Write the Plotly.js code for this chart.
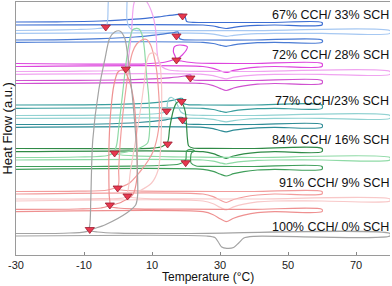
<!DOCTYPE html>
<html><head><meta charset="utf-8">
<script src="https://cdn.plot.ly/plotly-3.0.1.min.js"></script>
<style>html,body{margin:0;padding:0;background:#fff}#c{width:392px;height:286px}</style>
</head><body><div id="c"></div>
<script>
// temperature grids for the heating scans
const heatT60 = [-30,25,28,30,31.8,34,37,41,46,60];
const heatT80 = [-30,25,28,30,31.8,34,37,41,46,60,80];

// series labels
const groupLabels = ["67% CCH/ 33% SCH","72% CCH/ 28% SCH","77% CCH/23% SCH","84% CCH/ 16% SCH","91% CCH/ 9% SCH","100% CCH/ 0% SCH"];
const labelY = [15,55,101,140,183,227];

// 67/33 blue
const b1HeatY = [25,25,26,27.5,28.5,27.3,26.2,25.4,25,25];
const b1CoolT = [60,45,30,22,20.2,19.6,18.7,16.5,12,5,-5,-18,-30];
const b1CoolY = [22.5,22.5,22.5,22.3,21.5,15.5,14.2,14.8,16.8,19.2,21,21.8,22];
const b2HeatY = [33.3,33.3,34.2,35.4,36.3,35.3,34.4,33.6,33.3,33.3,33.3];
const b2CoolT = [80,40,20,8,5,4,3.1,2.6,2.55,1.5,0,-1.5,-2.6,-2.9,-3.0,-3.2,-3.6,-6,-12,-20,-30];
const b2CoolY = [30.7,30.7,30.6,30.6,30.3,29.5,26,18,-8,-16,-19,-16,-8,5,18,24,27,28.5,29.5,30.2,30.5];
const b3HeatY = [42.3,42.3,43.5,45.1,46.3,44.9,43.7,42.7,42.3,42.3];
const b3CoolT = [60,40,25,19,18.1,17.7,16.5,12,5,-5,-15,-30];
const b3CoolY = [40,40,40,39.6,38.5,32,32.5,34.6,37,38.7,39.6,40];

// 72/28 magenta
const m1HeatY = [66.5,66.5,68.3,70.7,72.5,70.4,68.6,67.1,66.5,66.5];
const m1CoolT = [60,40,28,23,20.2,18.7,17.2,18.9,20.1,20.4,18.1,16.6,16.3,16.9,14,8,0,-15,-30];
const m1CoolY = [63.5,63.5,63.4,63,62,61,60.5,55,50,46.7,45,46.7,52,58,62,63.8,64.2,64,63.5];
const m2HeatY = [74.3,74.3,75.7,77.5,78.8,77.2,75.9,74.8,74.3,74.3,74.3];
const m2CoolT = [80,40,25,18,15,13,12,11.5,11.3,11,10.2,8.5,6.4,4.8,4.0,3.4,2.9,2.6,2.3,1,-5,-15,-30];
const m2CoolY = [71.5,71.5,71.4,71,70,67,62,52,40,28,15,2,-5,2,30,50,62,67,69.8,70.5,71,71.3,71.5];
const m3HeatY = [83.5,83.5,85.6,88.4,90.5,88,85.9,84.2,83.5,83.5];
const m3CoolT = [60,40,26,22.3,21.6,21.4,21.0,19.5,15,8,0,-12,-30];
const m3CoolY = [80.5,80.5,80.4,80,78.5,75,74.8,76,77.8,79.2,80,80.4,80.5];

// 77/23 teal
const t1HeatY = [108.3,108.3,109.5,111.1,112.3,110.9,109.7,108.7,108.3,108.3];
const t1CoolT = [60,40,25,20.5,19.3,19.0,18.4,16,10,2,-10,-30];
const t1CoolY = [105,105,105,104.6,103.5,98.5,98.3,100.3,102.8,104.2,104.8,105];
const t2HeatY = [118.3,118.3,119.4,120.8,121.8,120.6,119.5,118.7,118.3,118.3,118.3];
const t2CoolT = [80,40,25,20,18.5,17.5,16.6,15.8,15,14.5,14.3,12,5,-5,-15,-30];
const t2CoolY = [115.5,115.5,115.3,114.5,112,105,99.5,97.5,98.5,104,111,113.5,114.6,115.2,115.4,115.5];
const t3HeatY = [127.3,127.3,128.7,130.5,131.8,130.2,128.9,127.8,127.3,127.3];
const t3CoolT = [60,40,25,20.3,19.3,19.0,18.2,14,6,-5,-30];
const t3CoolY = [124.5,124.5,124.5,124,122.5,117.5,117.3,119.8,122.5,124,124.5];

// 84/16 green
const g1HeatY = [151.7,151.7,153.7,156.3,158.3,156,153.9,152.4,151.7,151.7];
const g1CoolT = [60,40,27,22,20.8,20.4,20.2,19.8,19.0,18.1,17.2,16.3,15.2,14.6,13,10,5,-5,-30];
const g1CoolY = [148.5,148.5,148.4,148,146,138,128,112,104,101.5,103,110,128,142,146.5,148.2,148.8,148.7,148.5];
const g2HeatY = [160,160,161.2,162.8,164,162.6,161.4,160.4,160,160,160];
const g2CoolT = [80,40,28,20,12,5,1,-1,0.5,2.6,6,8.7,9.3,9.3,9.0,8.4,7.8,7.2,6.2,5.4,4.3,3.3,2.3,1.3,0.3,-0.4,-1.2,-3,-12,-30];
const g2CoolY = [157.5,157.5,157.3,157,156.5,155.8,155,153.5,153,152,148.5,143,130,115,95,75,50,36,29,28.3,30,42,65,95,125,145,152,155.5,157,157.5];
const g3HeatY = [169.3,169.3,171.3,174,176,173.7,171.6,170,169.3,169.3];
const g3CoolT = [60,40,27,23,21.5,21.6,22.5,21.6,20.2,19.9,18,12,4,-8,-30];
const g3CoolY = [166.5,166.5,166.4,166,163,153,151,149.5,151,160,164,165.5,166.2,166.5,166.5];

// 91/9 salmon
const s1HeatY = [194,194,196.6,200,202.5,199.5,197,195,194,194];
const s1CoolT = [60,40,20,5,1,-0.1,3.4,6.4,9.0,10.5,11.9,12.2,11.9,11.35,10.5,9.6,8.4,7,5.5,4.3,3.2,2.3,1.4,0.6,0.2,0,-3,-12,-30];
const s1CoolY = [191.5,191.5,191.4,190.8,190,189,183,172,160,150,130,110,90,70,55,45,39.5,40,44,52,68,90,115,145,170,186,190,191.2,191.5];
const s2HeatY = [201,201,203.7,207.3,210,206.9,204.2,201.9,201,201,201];
const s2CoolT = [80,40,20,8,4,2.84,6.36,9.88,11.8,12.5,12.8,12.8,12.2,10.8,9.3,8.4,7.8,6.6,5.2,3.7,2.84,2,-5,-15,-30];
const s2CoolY = [199,199,198.9,198.5,197.5,196.5,191,183,170,150,120,85,62,53,54,62,80,110,140,170,192,197.5,198.7,199,199];
const s3HeatY = [211.7,211.7,214.7,218.7,221.7,218.2,215.2,212.7,211.7,211.7];
const s3CoolT = [60,40,20,5,0,-2.43,1.1,4.3,5.5,5.5,4.6,3.0,1.4,0,-1.2,-2.1,-2.6,-2.7,-2.6,-2.5,-5,-12,-30];
const s3CoolY = [209.3,209.3,209.2,208.8,208,206.5,202,195,180,140,100,78,70,72,85,110,140,170,195,205,208,209,209.3];

// 100/0 grey
const k1HeatT = [-30,26,28.5,29.5,30.5,32,34,35.5,37,40,80];
const k1HeatY = [236,236,237.5,242,247,248.3,247.5,243,238,236.3,236];
const k1CoolT = [80,20,0,-6,-8.3,-3.9,2.55,5.19,5.78,5.78,5.48,4.6,3.72,2.84,1.96,0.5,-0.97,-2.43,-3.9,-5.66,-7.42,-8.01,-8.3,-8.9,-14.2,-30];
const k1CoolY = [233.5,233.5,233.2,232,230.5,225,213,205,195,180,150,110,80,55,38,31,32,38,60,90,140,200,225,231,233,233.5];

// crystallisation onset markers
const onsetT = [19.0,-3.6,17.2,17.2,2.3,21.3,18.7,14.3,19.0,14.6,-1.0,19.9,-0.1,2.8,-2.4,-8.3];
const onsetY = [16,27,36,60,69,78,101.5,111,120,144,153,162.7,188,196,205,229.5];

const cycles = [
  {hx:heatT60,hy:b1HeatY,cx:b1CoolT,cy:b1CoolY,c:'#3d6ed2'},
  {hx:heatT80,hy:b2HeatY,cx:b2CoolT,cy:b2CoolY,c:'#a6c8f2'},
  {hx:heatT60,hy:b3HeatY,cx:b3CoolT,cy:b3CoolY,c:'#4a7bd4'},
  {hx:heatT60,hy:m1HeatY,cx:m1CoolT,cy:m1CoolY,c:'#dd46dd'},
  {hx:heatT80,hy:m2HeatY,cx:m2CoolT,cy:m2CoolY,c:'#f0a4f0'},
  {hx:heatT60,hy:m3HeatY,cx:m3CoolT,cy:m3CoolY,c:'#d052d0'},
  {hx:heatT60,hy:t1HeatY,cx:t1CoolT,cy:t1CoolY,c:'#3a9e9e'},
  {hx:heatT80,hy:t2HeatY,cx:t2CoolT,cy:t2CoolY,c:'#92d2d2'},
  {hx:heatT60,hy:t3HeatY,cx:t3CoolT,cy:t3CoolY,c:'#2f8c96'},
  {hx:heatT60,hy:g1HeatY,cx:g1CoolT,cy:g1CoolY,c:'#2f8a46'},
  {hx:heatT80,hy:g2HeatY,cx:g2CoolT,cy:g2CoolY,c:'#8fdaa6'},
  {hx:heatT60,hy:g3HeatY,cx:g3CoolT,cy:g3CoolY,c:'#3f9e5a'},
  {hx:heatT60,hy:s1HeatY,cx:s1CoolT,cy:s1CoolY,c:'#f29c9c'},
  {hx:heatT80,hy:s2HeatY,cx:s2CoolT,cy:s2CoolY,c:'#f8c8c8'},
  {hx:heatT60,hy:s3HeatY,cx:s3CoolT,cy:s3CoolY,c:'#ee9090'},
  {hx:k1HeatT,hy:k1HeatY,cx:k1CoolT,cy:k1CoolY,c:'#a3a3a3'}
];

const traces = cycles.map(o => ({
  type:'scatter', mode:'lines',
  x: o.hx.concat(o.cx), y: o.hy.concat(o.cy),
  line:{color:o.c, width:1.2, shape:'spline', smoothing:0.8},
  hoverinfo:'skip'
}));
traces.push({
  type:'scatter', mode:'markers', x:onsetT, y:onsetY,
  marker:{symbol:'triangle-down', size:8, color:'#e8384f', line:{color:'#9c1c30', width:0.8}},
  hoverinfo:'skip', cliponaxis:false
});

const font = 'Liberation Sans, Arial, sans-serif';
const annotations = groupLabels.map((t,i)=>({
  text:t, xref:'paper', x:1.003, xanchor:'right', yref:'y', y:labelY[i], yanchor:'middle',
  showarrow:false, font:{family:font, size:12.5, color:'#111'}
}));
annotations.push({text:'Heat Flow (a.u.)', textangle:-90, xref:'paper', x:-0.024, xanchor:'center',
  yref:'paper', y:0.5, yanchor:'middle', showarrow:false, font:{family:font, size:13, color:'#111'}});
annotations.push({text:'Temperature (°C)', xref:'paper', x:0.513, xanchor:'center',
  yref:'paper', y:-0.087, yanchor:'middle', showarrow:false, font:{family:font, size:12, color:'#111'}});

const layout = {
  width:392, height:286, margin:{l:16, r:2, t:2, b:31},
  paper_bgcolor:'#fff', plot_bgcolor:'#fff', showlegend:false,
  xaxis:{range:[-30,80], tickvals:[-30,-10,10,30,50,70], ticktext:['-30','-10','10','30','50','70'],
    ticks:'inside', ticklen:3, tickcolor:'#888', showline:true, linecolor:'#9a9a9a', linewidth:1, mirror:true,
    showgrid:false, zeroline:false, tickfont:{family:font, size:11, color:'#222'}},
  yaxis:{range:[255,2], showticklabels:false, ticks:'', showline:true, linecolor:'#9a9a9a', linewidth:1,
    showgrid:false, zeroline:false},
  annotations:annotations
};
Plotly.newPlot('c', traces, layout, {staticPlot:true, displayModeBar:false});
</script></body></html>
